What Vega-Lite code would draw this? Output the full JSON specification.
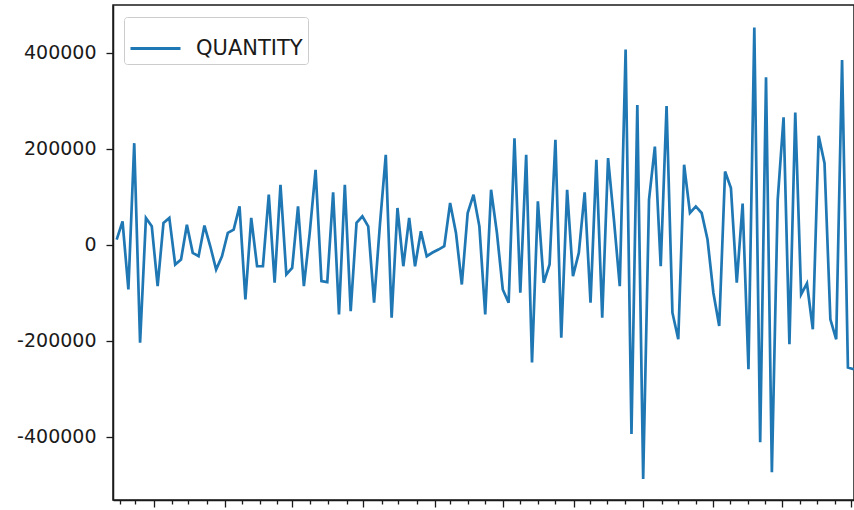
{
  "$schema": "https://vega.github.io/schema/vega-lite/v6.json",
  "width": 741,
  "height": 495,
  "autosize": {"type": "none"},
  "padding": {"left": 113, "top": 5, "right": 0, "bottom": 10},
  "background": "white",
  "config": {
    "font": "DejaVu Sans",
    "view": {"stroke": "#1a1a1a", "strokeWidth": 1.5},
    "axis": {"grid": false, "domainColor": "#1a1a1a", "domainWidth": 1.5, "tickColor": "#1a1a1a", "tickWidth": 1.3, "labelColor": "#1a1a1a", "labelFont": "DejaVu Sans"}
  },
  "data": {
    "values": [
      {"t": 0, "QUANTITY": 10400}, {"t": 1, "QUANTITY": 48400}, {"t": 2, "QUANTITY": -93500}, {"t": 3, "QUANTITY": 211200},
      {"t": 4, "QUANTITY": -204200}, {"t": 5, "QUANTITY": 55500}, {"t": 6, "QUANTITY": 38000}, {"t": 7, "QUANTITY": -86600},
      {"t": 8, "QUANTITY": 45100}, {"t": 9, "QUANTITY": 55500}, {"t": 10, "QUANTITY": -41500}, {"t": 11, "QUANTITY": -31200},
      {"t": 12, "QUANTITY": 41500}, {"t": 13, "QUANTITY": -17200}, {"t": 14, "QUANTITY": -24300}, {"t": 15, "QUANTITY": 39500},
      {"t": 16, "QUANTITY": -3500}, {"t": 17, "QUANTITY": -51900}, {"t": 18, "QUANTITY": -24300}, {"t": 19, "QUANTITY": 24300},
      {"t": 20, "QUANTITY": 31200}, {"t": 21, "QUANTITY": 79500}, {"t": 22, "QUANTITY": -114200}, {"t": 23, "QUANTITY": 55500},
      {"t": 24, "QUANTITY": -45100}, {"t": 25, "QUANTITY": -45100}, {"t": 26, "QUANTITY": 103900}, {"t": 27, "QUANTITY": -79500},
      {"t": 28, "QUANTITY": 124600}, {"t": 29, "QUANTITY": -62300}, {"t": 30, "QUANTITY": -48400}, {"t": 31, "QUANTITY": 79500},
      {"t": 32, "QUANTITY": -86600}, {"t": 33, "QUANTITY": 24300}, {"t": 34, "QUANTITY": 155800}, {"t": 35, "QUANTITY": -76200},
      {"t": 36, "QUANTITY": -78300}, {"t": 37, "QUANTITY": 108600}, {"t": 38, "QUANTITY": -145400}, {"t": 39, "QUANTITY": 124600},
      {"t": 40, "QUANTITY": -138500}, {"t": 41, "QUANTITY": 45100}, {"t": 42, "QUANTITY": 58800}, {"t": 43, "QUANTITY": 38000},
      {"t": 44, "QUANTITY": -121100}, {"t": 45, "QUANTITY": 41500}, {"t": 46, "QUANTITY": 186900}, {"t": 47, "QUANTITY": -152200},
      {"t": 48, "QUANTITY": 76200}, {"t": 49, "QUANTITY": -45100}, {"t": 50, "QUANTITY": 55500}, {"t": 51, "QUANTITY": -45100},
      {"t": 52, "QUANTITY": 27600}, {"t": 53, "QUANTITY": -24300}, {"t": 54, "QUANTITY": -16600}, {"t": 55, "QUANTITY": -10400},
      {"t": 56, "QUANTITY": -3500}, {"t": 57, "QUANTITY": 86600}, {"t": 58, "QUANTITY": 24300}, {"t": 59, "QUANTITY": -83100},
      {"t": 60, "QUANTITY": 65800}, {"t": 61, "QUANTITY": 103900}, {"t": 62, "QUANTITY": 38000}, {"t": 63, "QUANTITY": -145400},
      {"t": 64, "QUANTITY": 114200}, {"t": 65, "QUANTITY": 24300}, {"t": 66, "QUANTITY": -93500}, {"t": 67, "QUANTITY": -121100},
      {"t": 68, "QUANTITY": 221600}, {"t": 69, "QUANTITY": -100300}, {"t": 70, "QUANTITY": 186900}, {"t": 71, "QUANTITY": -245700},
      {"t": 72, "QUANTITY": 89900}, {"t": 73, "QUANTITY": -79500}, {"t": 74, "QUANTITY": -41500}, {"t": 75, "QUANTITY": 218100},
      {"t": 76, "QUANTITY": -193800}, {"t": 77, "QUANTITY": 114200}, {"t": 78, "QUANTITY": -65800}, {"t": 79, "QUANTITY": -17200},
      {"t": 80, "QUANTITY": 108600}, {"t": 81, "QUANTITY": -121100}, {"t": 82, "QUANTITY": 176500}, {"t": 83, "QUANTITY": -152200},
      {"t": 84, "QUANTITY": 180100}, {"t": 85, "QUANTITY": 51900}, {"t": 86, "QUANTITY": -86600}, {"t": 87, "QUANTITY": 406500},
      {"t": 88, "QUANTITY": -394600}, {"t": 89, "QUANTITY": 290800}, {"t": 90, "QUANTITY": -488100}, {"t": 91, "QUANTITY": 93500},
      {"t": 92, "QUANTITY": 204200}, {"t": 93, "QUANTITY": -45100}, {"t": 94, "QUANTITY": 288700}, {"t": 95, "QUANTITY": -141900},
      {"t": 96, "QUANTITY": -197300}, {"t": 97, "QUANTITY": 166200}, {"t": 98, "QUANTITY": 65800}, {"t": 99, "QUANTITY": 79500},
      {"t": 100, "QUANTITY": 65800}, {"t": 101, "QUANTITY": 10400}, {"t": 102, "QUANTITY": -100300}, {"t": 103, "QUANTITY": -169700},
      {"t": 104, "QUANTITY": 152200}, {"t": 105, "QUANTITY": 117800}, {"t": 106, "QUANTITY": -79500}, {"t": 107, "QUANTITY": 85200},
      {"t": 108, "QUANTITY": -259600}, {"t": 109, "QUANTITY": 452100}, {"t": 110, "QUANTITY": -411900}, {"t": 111, "QUANTITY": 348300},
      {"t": 112, "QUANTITY": -474200}, {"t": 113, "QUANTITY": 93500}, {"t": 114, "QUANTITY": 265200}, {"t": 115, "QUANTITY": -207700},
      {"t": 116, "QUANTITY": 274800}, {"t": 117, "QUANTITY": -103900}, {"t": 118, "QUANTITY": -81000}, {"t": 119, "QUANTITY": -176500},
      {"t": 120, "QUANTITY": 226400}, {"t": 121, "QUANTITY": 169700}, {"t": 122, "QUANTITY": -155800}, {"t": 123, "QUANTITY": -197300},
      {"t": 124, "QUANTITY": 384200}, {"t": 125, "QUANTITY": -256100}, {"t": 126, "QUANTITY": -259600}
    ]
  },
  "mark": {"type": "line", "strokeWidth": 2.7, "interpolate": "linear"},
  "encoding": {
    "x": {
      "field": "t",
      "type": "quantitative",
      "scale": {"domain": [-0.63, 126.04], "nice": false, "zero": false},
      "axis": {
        "title": null,
        "labels": false,
        "values": [0.56, 3.1, 6.3, 9.4, 12.2, 15.4, 18.5, 21.4, 24.5, 27.4, 29.9, 33, 36.2, 39.3, 42.1, 45.3, 48.1, 51.3, 54.4, 57, 60.1, 63, 66.1, 68.9, 72.1, 74.9, 78.1, 80.9, 83.8, 86.9, 90, 93.2, 96, 99.1, 102, 104.8, 108, 110.8, 113.8, 116.8, 119.7, 122.8, 125.6],
        "tickSize": {"condition": {"test": "indexof([6.3, 18.5, 29.9, 42.1, 54.4, 66.1, 78.1, 90, 102, 113.8, 125.6], datum.value) >= 0", "value": 7}, "value": 4}
      }
    },
    "y": {
      "field": "QUANTITY",
      "type": "quantitative",
      "scale": {"domain": [-532000, 499000], "nice": false, "zero": false},
      "axis": {
        "title": null,
        "values": [-400000, -200000, 0, 200000, 400000],
        "labelExpr": "'' + datum.value",
        "labelFontSize": 19,
        "labelPadding": 10,
        "tickSize": 7
      }
    },
    "color": {
      "datum": "QUANTITY",
      "type": "nominal",
      "scale": {"range": ["#1f77b4"]},
      "legend": {
        "title": null,
        "orient": "none",
        "legendX": 11,
        "legendY": 12,
        "symbolType": "stroke",
        "symbolSize": 2500,
        "symbolStrokeWidth": 3,
        "labelFontSize": 21,
        "labelFont": "DejaVu Sans",
        "labelColor": "#1a1a1a",
        "labelOffset": 14,
        "padding": 5,
        "strokeColor": "#cccccc",
        "cornerRadius": 3,
        "fillColor": "rgba(255,255,255,0.85)"
      }
    }
  }
}
